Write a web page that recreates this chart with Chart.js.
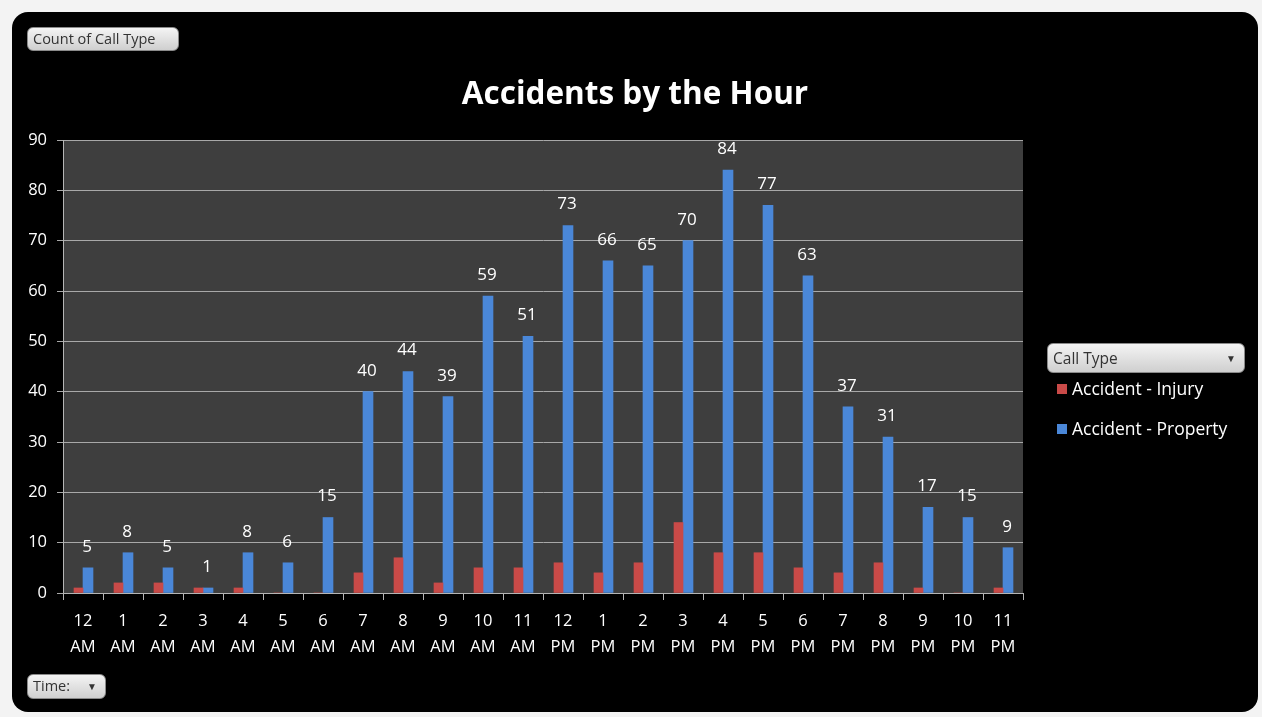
<!DOCTYPE html>
<html>
<head>
<meta charset="utf-8">
<title>Accidents by the Hour</title>
<script src="https://cdn.jsdelivr.net/npm/chart.js@4.4.1/dist/chart.umd.min.js"></script>
<style>
    html, body { margin: 0; padding: 0; }
    body {
        width: 1262px; height: 717px; overflow: hidden;
        background: #f3f3f3;
        font-family: "Open Sans", "Noto Sans", sans-serif;
        position: relative;
    }
    #panel {
        position: absolute; left: 12px; top: 12px;
        width: 1246px; height: 700px;
        background: #000; border-radius: 16px;
    }
    #chart { position: absolute; left: 0; top: 0; }
    #title {
        position: absolute; left: 0; width: 1246px; top: 59px;
        text-align: center; color: #fff;
        font-size: 31.5px; font-weight: bold; line-height: 42px;
    }
    .btn {
        position: absolute;
        background: linear-gradient(#f4f4f4, #cfcfcf);
        border: 1px solid #8a8a8a; border-radius: 6px;
        color: #333; font-size: 14.5px; line-height: 22px;
        padding: 0 5px; box-sizing: border-box;
    }
    .arrow { position: absolute; right: 8px; top: 0; font-size: 10px; }
    #legend { position: absolute; left: 1035px; top: 331px; width: 200px; }
    #legend .btn { position: relative; width: 198px; height: 30px; line-height: 28px; font-size: 15.5px; }
    .item { position: relative; height: 40px; line-height: 40px; color: #fff; font-size: 17.5px; padding-left: 25px; top: -5px; }
    .item span { position: absolute; left: 10px; top: 16px; width: 10px; height: 10px; }
</style>
</head>
<body>
<div id="panel">
    <canvas id="chart" width="1246" height="700"></canvas>
    <div id="title">Accidents by the Hour</div>
    <div class="btn" style="left:15px; top:15px; width:152px; height:24px;">Count of Call Type</div>
    <div class="btn" style="left:15px; top:662px; width:79px; height:25px;">Time:<span class="arrow">&#9660;</span></div>
    <div id="legend">
        <div class="btn">Call Type<span class="arrow">&#9660;</span></div>
    </div>
</div>
<script>
// ========================== Datos
const hours = [
    ["12", "AM"], ["1", "AM"], ["2", "AM"], ["3", "AM"], ["4", "AM"], ["5", "AM"],
    ["6", "AM"], ["7", "AM"], ["8", "AM"], ["9", "AM"], ["10", "AM"], ["11", "AM"],
    ["12", "PM"], ["1", "PM"], ["2", "PM"], ["3", "PM"], ["4", "PM"], ["5", "PM"],
    ["6", "PM"], ["7", "PM"], ["8", "PM"], ["9", "PM"], ["10", "PM"], ["11", "PM"]
];
const injury = [1, 2, 2, 1, 1, 0, 0, 4, 7, 2, 5, 5, 6, 4, 6, 14, 8, 8, 5, 4, 6, 1, 0, 1];
const property = [5, 8, 5, 1, 8, 6, 15, 40, 44, 39, 59, 51, 73, 66, 65, 70, 84, 77, 63, 37, 31, 17, 15, 9];
const yTicks = [0, 10, 20, 30, 40, 50, 60, 70, 80, 90];

const seriesNames = ["Accident - Injury", "Accident - Property"];
const seriesColors = ["#c94a48", "#4a87d8"];

// ========================== Fondo del área de trazado + etiquetas de datos
const plotBg = {
    id: "plotBg",
    beforeDraw(chart) {
        const a = chart.chartArea, c = chart.ctx;
        c.save();
        c.fillStyle = "#3e3e3e";
        c.fillRect(a.left, a.top, a.right - a.left, a.bottom - a.top);
        c.restore();
    }
};

const barLabels = {
    id: "barLabels",
    afterDatasetsDraw(chart) {
        const c = chart.ctx;
        const meta = chart.getDatasetMeta(1);
        c.save();
        c.fillStyle = "#ffffff";
        c.font = "17px 'Open Sans'";
        c.textAlign = "center";
        c.textBaseline = "middle";
        meta.data.forEach(function (bar, i) {
            c.fillText(String(property[i]), bar.x - 1, bar.y - 21);
        });
        c.restore();
    }
};

const ctx = document.getElementById("chart");
const chart = new Chart(ctx, {
    type: "bar",
    data: {
        labels: hours,
        datasets: [{
            label: seriesNames[0],
            data: injury,
            backgroundColor: seriesColors[0],
            barThickness: 9,
            categoryPercentage: 0.6
        }, {
            label: seriesNames[1],
            data: property,
            backgroundColor: seriesColors[1],
            barThickness: 10,
            categoryPercentage: 0.6
        }]
    },
    options: {
        responsive: false,
        animation: false,
        layout: { padding: { left: 0, right: 235, top: 128, bottom: 39 } },
        plugins: {
            legend: { display: false },
            title: { display: false },
            tooltip: { enabled: false }
        },
        scales: {
            x: {
                grid: {
                    offset: true, drawOnChartArea: false, drawTicks: true,
                    tickLength: 7, color: "#b5b5b5"
                },
                border: { color: "#b5b5b5" },
                ticks: {
                    color: "#ffffff", padding: 9, autoSkip: false, maxRotation: 0,
                    font: { family: "Open Sans", size: 16.5, lineHeight: 1.55 }
                },
                afterFit(scale) { scale.height = 80; }
            },
            y: {
                min: 0, max: 90,
                afterBuildTicks(scale) { scale.ticks = yTicks.map(v => ({ value: v })); },
                grid: { color: "#a8a8a8", tickLength: 6 },
                border: { color: "#b5b5b5" },
                ticks: {
                    color: "#ffffff", padding: 10,
                    font: { family: "Open Sans", size: 16.5 }
                },
                afterFit(scale) { scale.width = 51; }
            }
        }
    },
    plugins: [plotBg, barLabels]
});

// ========================== Leyenda
const legend = document.getElementById("legend");
chart.data.datasets.forEach(function (ds) {
    const row = document.createElement("div");
    row.className = "item";
    row.innerHTML = '<span style="background:' + ds.backgroundColor + '"></span>' + ds.label;
    legend.appendChild(row);
});
</script>
</body>
</html>
